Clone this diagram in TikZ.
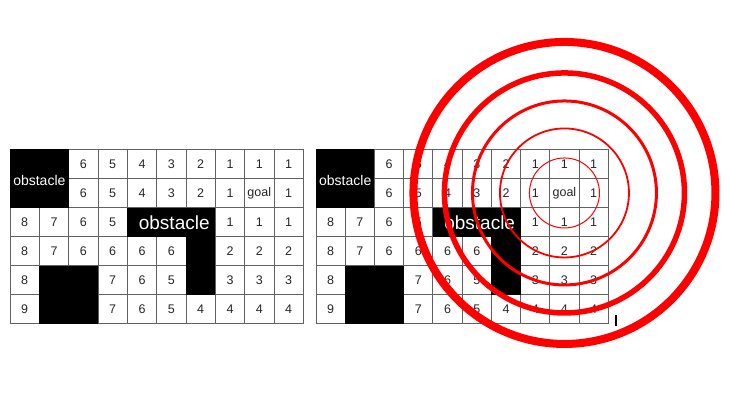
\documentclass[tikz,border=0pt]{standalone}
\usepackage{fontspec}
\setmainfont{Liberation Sans}
\begin{document}
\begin{tikzpicture}[x=1pt,y=-1pt,
  gridline/.style={draw=black!62, line width=0.9pt},
  obst/.style={fill=black},
  num/.style={font=\fontsize{12.5}{14}\selectfont, text=black!85, inner sep=0pt},
  obsttext/.style={font=\fontsize{14}{16}\selectfont, text=white, inner sep=0pt},
  bigobsttext/.style={font=\fontsize{19}{22}\selectfont, text=white, inner sep=0pt},
  ring/.style={draw=red, fill=none}]
\fill[white] (0,0) rectangle (729,415);
\useasboundingbox (0,0) rectangle (729,415);
\def\celldata{0/2/6,0/3/5,0/4/4,0/5/3,0/6/2,0/7/1,0/8/1,0/9/1,
1/2/6,1/3/5,1/4/4,1/5/3,1/6/2,1/7/1,1/8/goal,1/9/1,
2/0/8,2/1/7,2/2/6,2/3/5,2/7/1,2/8/1,2/9/1,
3/0/8,3/1/7,3/2/6,3/3/6,3/4/6,3/5/6,3/7/2,3/8/2,3/9/2,
4/0/8,4/3/7,4/4/6,4/5/5,4/7/3,4/8/3,4/9/3,
5/0/9,5/3/7,5/4/6,5/5/5,5/6/4,5/7/4,5/8/4,5/9/4}
% #1 prefix, #2 left x, #3 cell width
\newcommand\drawcellgrid[3]{%
  \begin{scope}[shift={(#2,149.3)}]
    \foreach \i in {0,...,10} {\draw[gridline] ({\i*#3},0) -- ({\i*#3},174.6);}
    \foreach \j in {0,...,6} {\draw[gridline] (0,{\j*29.1}) -- ({10*#3},{\j*29.1});}
    \fill[obst] (0,0) rectangle ({2*#3},{2*29.1});
    \fill[obst] ({4*#3},{2*29.1}) rectangle ({7*#3},{3*29.1});
    \fill[obst] ({6*#3},{3*29.1}) rectangle ({7*#3},{5*29.1});
    \fill[obst] ({1*#3},{4*29.1}) rectangle ({3*#3},{6*29.1});
    \foreach \r/\c/\v in \celldata {
      \node[num] (#1-\r-\c) at ({(\c+0.5)*#3},{(\r+0.5)*29.1}) {\v};
    }
    \node[obsttext] (#1-obsA) at ({1*#3},{2*29.1-27}) {obstacle};
    \node[bigobsttext] (#1-obsB) at ({5.6*#3},{2.5*29.1+1}) {obstacle};
  \end{scope}
}
\drawcellgrid{L}{10}{29.33}
\drawcellgrid{R}{316}{29.23}
% target rings around the goal
\draw[ring, line width=1pt]   (R-1-8.center) circle[radius=35pt];
\draw[ring, line width=1.8pt] (R-1-8.center) circle[radius=64.5pt];
\draw[ring, line width=3pt]   (R-1-8.center) circle[radius=92pt];
\draw[ring, line width=5.5pt] (R-1-8.center) circle[radius=120pt];
\draw[ring, line width=8pt]   (R-1-8.center) circle[radius=151pt];
% small mark
\fill[black] (615,315) rectangle (617,325.5);
\end{tikzpicture}
\end{document}
